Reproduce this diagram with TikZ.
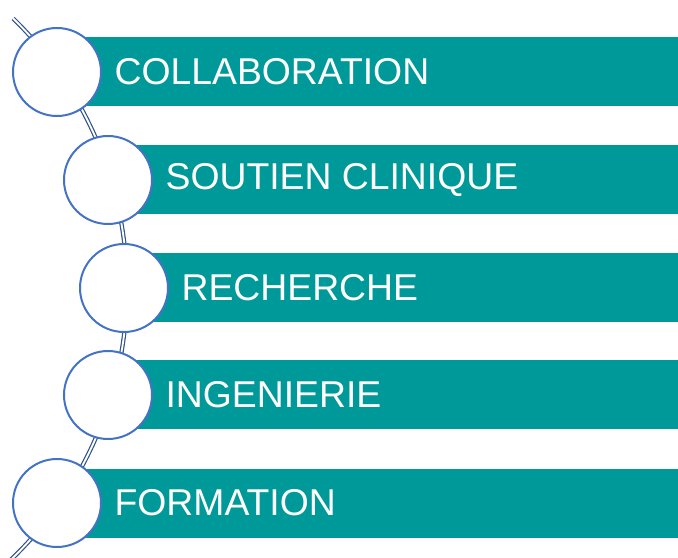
\documentclass[tikz,border=0pt]{standalone}
\usepackage{fontspec}
\setmainfont{Liberation Sans}
\usetikzlibrary{positioning}
\definecolor{barteal}{RGB}{0,153,153}
\definecolor{ringblue}{RGB}{68,114,196}
\definecolor{spineblue}{RGB}{47,82,143}
\tikzset{
	ring/.style={circle, draw=ringblue, line width=1.5pt, fill=white,
		minimum size=66pt, inner sep=0pt, outer sep=0pt},
	bar/.style={fill=barteal, minimum height=51.75pt, inner sep=0pt,
		outer sep=0pt, anchor=west},
	label/.style={text=white, inner sep=0pt, anchor=west,
		font=\fontsize{28}{34}\selectfont},
	spine/.style={double=white, draw=spineblue, line width=0.9pt,
		double distance=1.4pt}
}

\begin{document}
\begin{tikzpicture}[x=0.75pt, y=0.75pt]
\useasboundingbox (0,0) rectangle (678,557);

% ===== spine: arc through the ring centres =====
\draw[spine] (-249,269) ++(45.8:376) arc[start angle=45.8, end angle=-47, radius=282pt];

% ===== bars =====
\node[bar, minimum width=465.75pt] (b1) at (57,485) {};
\node[bar, minimum width=427.5pt] (b2) at (108,377) {};
\node[bar, minimum width=415.5pt] (b3) at (124,269) {};
\node[bar, minimum width=427.5pt] (b4) at (108,162) {};
\node[bar, minimum width=465.75pt] (b5) at (57,54) {};

% ===== rings =====
\node[ring] (c1) at (57,485) {};
\node[ring] (c2) at (108,377) {};
\node[ring] (c3) at (124,269) {};
\node[ring] (c4) at (108,162) {};
\node[ring] (c5) at (57,54) {};

% ===== labels =====
\node[label, right=10pt of c1] (t1) {COLLABORATION};
\node[label, right=10pt of c2] (t2) {SOUTIEN CLINIQUE};
\node[label, right=10pt of c3] (t3) {RECHERCHE};
\node[label, right=10pt of c4] (t4) {INGENIERIE};
\node[label, right=10pt of c5] (t5) {FORMATION};

\end{tikzpicture}
\end{document}
